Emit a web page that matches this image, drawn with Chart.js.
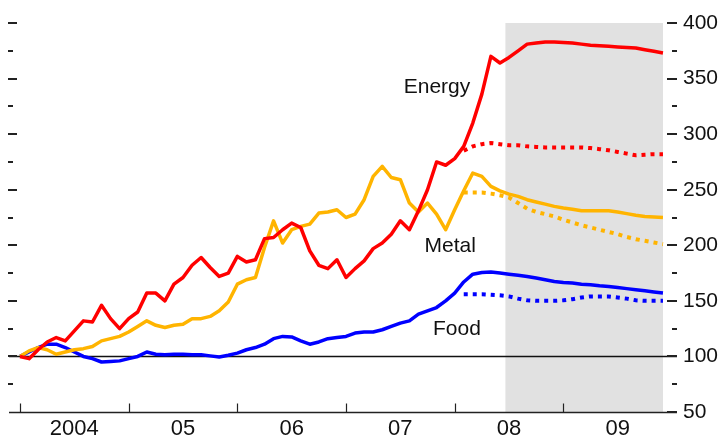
<!DOCTYPE html>
<html>
<head>
<meta charset="utf-8">
<script src="https://cdn.jsdelivr.net/npm/chart.js@4/dist/chart.umd.min.js"></script>
<style>
  html, body { margin: 0; padding: 0; background: #fff; }
</style>
</head>
<body>
<canvas id="chart" width="720" height="442"></canvas>
<script>
// month index 0 = Jan 2004 ... 71 = Dec 2009
var yearLabels = ['2004', '05', '06', '07', '08', '09'];

var energy = [
  100, 98, 106, 113, 117, 114, 123, 132, 131, 146, 134, 125,
  134, 140, 157, 157, 150, 165, 171, 182, 189, 180, 172, 175,
  190, 185, 187, 206, 207, 214, 220, 216, 195, 182, 179, 187,
  171, 179, 186, 197, 202, 210, 222, 214, 231, 250, 275, 272,
  278, 289, 310, 336, 370, 364, 369, 375, 381, 382, 383, 383,
  382.5, 382, 381, 380, 379.5, 379, 378.5, 378, 377.5, 376, 374.5, 373
];
var metal = [
  100, 105, 108, 106, 102, 104, 106, 107, 109, 114, 116, 118,
  122, 127, 132, 128, 126, 128, 129, 134, 134, 136, 141, 149,
  165, 169, 171, 198, 222, 202, 214, 217, 219, 229, 230, 232,
  225, 228, 241, 262, 271, 261, 259, 238, 230, 238, 228, 214,
  232, 249, 265, 262, 253, 249, 246, 244, 241, 239, 237, 235,
  233.5, 232.5, 231, 231, 231, 231, 230, 228.5, 227, 226, 225.5, 225
];
var food = [
  100, 104, 108, 111, 111, 108, 104, 100, 98, 95, 95.5, 96,
  98, 100, 104, 102, 101.5, 102, 102, 101.5, 101.5, 100.5, 99.5, 101,
  103, 106, 108, 111, 116, 118, 117.5, 114, 111, 113, 116, 117,
  118, 121, 122, 122, 124, 127, 130, 132, 138, 141, 144, 150,
  157, 167, 174, 175.5, 176, 175, 174, 173, 172, 170.5, 169, 167.5,
  166.5, 166, 165, 164.5, 163.5, 163, 162, 161, 160, 159, 158, 157
];

// futures curves, starting Feb 2008 (month 49)
var futuresStart = 49;
var energyFutures = [285, 289, 291, 292, 291, 290, 290, 289, 288.5, 288, 288, 288, 288, 288, 287.5, 286.5, 285.5, 284, 282.5, 281, 281.5, 282, 282];
var metalFutures = [247.5, 247.5, 247.5, 246.5, 245, 243, 238, 233, 230, 228, 226, 223, 220.5, 218, 216, 214, 212, 210, 207.5, 205.5, 204, 202.5, 201];
var foodFutures = [156, 156, 156, 155.5, 155, 154, 152, 150.5, 150, 150, 150, 150.5, 151.5, 153, 154, 154, 154, 153, 152, 150.5, 150, 150, 150];

var forecastStart = 53.6;
var yMin = 50, yMax = 400, yStep = 25;

var FONT = 'Liberation Sans, Arial, sans-serif';
var RED = '#ff0000', GOLD = '#ffb400', BLUE = '#0000ff';

function toPoints(values, start) {
  return values.map(function (v, i) { return { x: start + i, y: v }; });
}

function solid(label, values, color) {
  return {
    label: label,
    data: toPoints(values, 0),
    borderColor: color,
    borderWidth: 3.5,
    pointRadius: 0,
    tension: 0,
    borderJoinStyle: 'round'
  };
}

function dotted(label, values, color) {
  return {
    label: label,
    data: toPoints(values, futuresStart),
    borderColor: color,
    borderWidth: 4,
    borderDash: [4, 5],
    pointRadius: 0,
    tension: 0
  };
}

var decor = {
  id: 'decor',
  beforeDatasetsDraw: function (chart) {
    var ctx = chart.ctx;
    var xs = chart.scales.x, ys = chart.scales.y;
    var area = chart.chartArea;
    ctx.save();
    // forecast shading
    var x0 = xs.getPixelForValue(forecastStart);
    var x1 = xs.getPixelForValue(energy.length - 1);
    ctx.fillStyle = '#e1e1e1';
    ctx.fillRect(x0, ys.getPixelForValue(yMax), x1 - x0, ys.getPixelForValue(yMin) - ys.getPixelForValue(yMax));
    // base line at 100
    ctx.strokeStyle = '#111';
    ctx.lineWidth = 1.5;
    var y100 = Math.round(ys.getPixelForValue(100)) + 0.5;
    ctx.beginPath();
    ctx.moveTo(area.left, y100);
    ctx.lineTo(area.right, y100);
    ctx.stroke();
    // bottom axis
    var yb = Math.round(ys.getPixelForValue(yMin)) + 0.5;
    ctx.strokeStyle = '#222';
    ctx.beginPath();
    ctx.moveTo(area.left, yb);
    ctx.lineTo(area.right, yb);
    ctx.stroke();
    // year ticks
    ctx.lineWidth = 1.2;
    for (var i = 0; i < yearLabels.length; i++) {
      var xt = Math.round(xs.getPixelForValue(i * 12)) + 0.5;
      ctx.beginPath();
      ctx.moveTo(xt, yb);
      ctx.lineTo(xt, yb - 9);
      ctx.stroke();
    }
    // y tick marks, both sides
    ctx.lineWidth = 2;
    for (var v = yMin; v <= yMax; v += yStep) {
      var yt = Math.round(ys.getPixelForValue(v));
      var major = v % 50 === 0;
      ctx.beginPath();
      if (v !== yMin) {
        ctx.moveTo(area.left - 1, yt);
        ctx.lineTo(area.left + (major ? 8 : 4), yt);
      }
      ctx.moveTo(area.right - (major ? 10 : 5), yt);
      ctx.lineTo(area.right, yt);
      ctx.stroke();
    }
    ctx.restore();
  },
  afterDatasetsDraw: function (chart) {
    var ctx = chart.ctx;
    var xs = chart.scales.x, ys = chart.scales.y;
    ctx.save();
    ctx.fillStyle = '#111';
    ctx.font = '21px ' + FONT;
    ctx.textAlign = 'center';
    ctx.textBaseline = 'middle';
    ctx.fillText('Energy', xs.getPixelForValue(46.05), ys.getPixelForValue(342.5));
    ctx.fillText('Metal', xs.getPixelForValue(47.5), ys.getPixelForValue(199.6));
    ctx.fillText('Food', xs.getPixelForValue(48.25), ys.getPixelForValue(124.2));
    ctx.restore();
  }
};

var config = {
  type: 'line',
  data: {
    datasets: [
      solid('Energy', energy, RED),
      solid('Metal', metal, GOLD),
      solid('Food', food, BLUE),
      dotted('Energy futures', energyFutures, RED),
      dotted('Metal futures', metalFutures, GOLD),
      dotted('Food futures', foodFutures, BLUE)
    ]
  },
  options: {
    responsive: false,
    animation: false,
    layout: { padding: { left: 9, top: 23, right: 0, bottom: 0 } },
    plugins: {
      legend: { display: false },
      tooltip: { enabled: false }
    },
    scales: {
      x: {
        type: 'linear',
        position: 'bottom',
        min: -1.215,
        max: 72.55,
        grid: { display: false, drawTicks: false },
        border: { display: false },
        afterBuildTicks: function (scale) {
          scale.ticks = yearLabels.map(function (l, i) { return { value: 6 + i * 12 }; });
        },
        ticks: {
          autoSkip: false,
          maxRotation: 0,
          padding: 4,
          color: '#111',
          font: { family: FONT, size: 22 },
          callback: function (value) { return yearLabels[Math.round((value - 6) / 12)]; }
        },
        afterFit: function (scale) { scale.height = 30; }
      },
      y: {
        position: 'right',
        min: yMin,
        max: yMax,
        grid: { display: false, drawTicks: false },
        border: { display: false },
        afterBuildTicks: function (scale) {
          var t = [];
          for (var v = yMin; v <= yMax; v += 50) t.push({ value: v });
          scale.ticks = t;
        },
        ticks: {
          padding: 6,
          color: '#111',
          font: { family: FONT, size: 21 }
        },
        afterFit: function (scale) { scale.width = 43; }
      }
    }
  },
  plugins: [decor]
};

window.onload = function () {
  var ctx = document.getElementById('chart');
  window.myChart = new Chart(ctx, config);
};
</script>
</body>
</html>
